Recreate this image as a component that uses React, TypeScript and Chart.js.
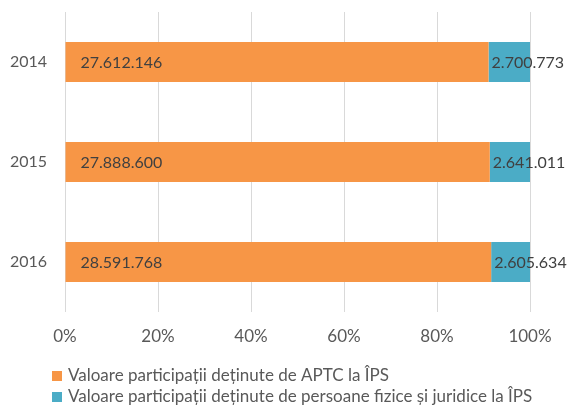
import React, { useEffect, useRef } from "react";
import { Chart, registerables } from "chart.js";

Chart.register(...registerables);

const categories = ["2014", "2015", "2016"];
const aptcValues = [27612146, 27888600, 28591768];
const persoaneValues = [2700773, 2641011, 2605634];
const aptcLabels = ["27.612.146", "27.888.600", "28.591.768"];
const persoaneLabels = ["2.700.773", "2.641.011", "2.605.634"];
const seriesNames = [
  "Valoare participații deținute de APTC la ÎPS",
  "Valoare participații deținute de persoane fizice și juridice la ÎPS",
];
const seriesColors = ["#F79646", "#4BACC6"];
const xTicks = [0, 20, 40, 60, 80, 100];

const FONT = "Lato";

export default function App() {
  const ref = useRef<HTMLCanvasElement | null>(null);
  useEffect(() => {
    if (!ref.current) return;
    const totals = aptcValues.map((v, i) => v + persoaneValues[i]);
    const pctA = aptcValues.map((v, i) => (v / totals[i]) * 100);
    const pctP = persoaneValues.map((v, i) => (v / totals[i]) * 100);
    const labelSets = [aptcLabels, persoaneLabels];

    const dataLabels = {
      id: "dataLabels",
      afterDatasetsDraw(chart: any) {
        const ctx = chart.ctx;
        ctx.save();
        ctx.font = `16px ${FONT}`;
        ctx.fillStyle = "#404040";
        ctx.textBaseline = "middle";
        ctx.textAlign = "left";
        chart.data.datasets.forEach((ds: any, di: number) => {
          const meta = chart.getDatasetMeta(di);
          meta.data.forEach((bar: any, i: number) => {
            const off = di === 0 ? 15 : 3;
            ctx.fillText(labelSets[di][i], bar.base + off, bar.y + 1);
          });
        });
        ctx.restore();
      },
    };

    const bottomLegend = {
      id: "bottomLegend",
      afterDraw(chart: any) {
        const ctx = chart.ctx;
        ctx.save();
        ctx.font = `17px ${FONT}`;
        ctx.textBaseline = "middle";
        ctx.textAlign = "left";
        const rows = [376, 397];
        chart.data.datasets.forEach((ds: any, di: number) => {
          const y = rows[di];
          ctx.fillStyle = ds.backgroundColor;
          ctx.fillRect(52, y - 5, 10, 10);
          ctx.fillStyle = "#595959";
          ctx.fillText(ds.label, 68, y);
        });
        ctx.restore();
      },
    };

    const chart = new Chart(ref.current, {
      type: "bar",
      data: {
        labels: categories,
        datasets: [
          { label: seriesNames[0], data: pctA, backgroundColor: seriesColors[0], barPercentage: 0.4, categoryPercentage: 1 },
          { label: seriesNames[1], data: pctP, backgroundColor: seriesColors[1], barPercentage: 0.4, categoryPercentage: 1 },
        ],
      },
      options: {
        indexAxis: "y",
        animation: false,
        responsive: false,
        layout: { padding: { top: 12, right: 37, left: 0, bottom: 0 } },
        scales: {
          x: {
            stacked: true,
            min: 0,
            max: 100,
            afterBuildTicks: (s: any) => { s.ticks = xTicks.map((v) => ({ value: v })); },
            afterFit: (s: any) => { s.height = 94; s.paddingLeft = 0; s.paddingRight = 0; },
            grid: { color: "#D9D9D9", drawTicks: false, lineWidth: 1 },
            border: { display: false },
            ticks: { padding: 14, color: "#595959", font: { family: FONT, size: 17 }, callback: (v: any) => v + "%" },
          },
          y: {
            stacked: true,
            grid: { display: false, drawTicks: false },
            border: { display: false },
            afterFit: (s: any) => { s.width = 65; s.paddingTop = 0; s.paddingBottom = 0; },
            ticks: { padding: 18, color: "#595959", font: { family: FONT, size: 16 } },
          },
        },
        plugins: {
          tooltip: { enabled: false },
          legend: { display: false },
        },
      },
      plugins: [dataLabels, bottomLegend],
    });
    return () => chart.destroy();
  }, []);
  return (
    <div style={{ position: "fixed", left: 0, top: 0, width: 567, height: 406, background: "#fff" }}>
      <canvas ref={ref} width={567} height={406} style={{ display: "block" }} />
    </div>
  );
}
